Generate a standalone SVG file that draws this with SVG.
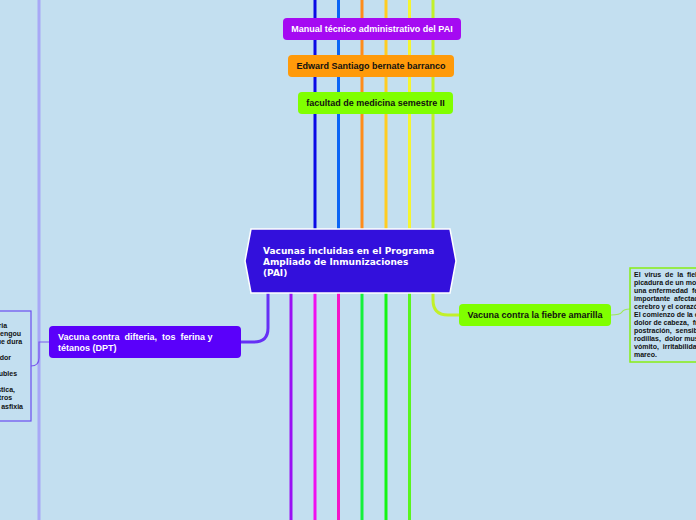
<svg xmlns="http://www.w3.org/2000/svg" width="696" height="520" viewBox="0 0 696 520">
<style>
.ln{fill:none;stroke-width:3}
.t9{font-family:"Liberation Sans",Arial,sans-serif;font-weight:bold;font-size:9px}
.t7{font-family:"Liberation Sans",Arial,sans-serif;font-weight:bold;font-size:7px;fill:#111}
</style>
<rect width="696" height="520" fill="#c3dff0"/>
<g id="connectors">
<line class="ln" x1="39" y1="0" x2="39" y2="520" stroke="#a8a8f6" stroke-width="2"/>
<line class="ln" x1="315" y1="0" x2="315" y2="230" stroke="#0a0ae6"/>
<line class="ln" x1="338.5" y1="0" x2="338.5" y2="230" stroke="#0a64f5"/>
<line class="ln" x1="362" y1="0" x2="362" y2="230" stroke="#ff8c1a"/>
<line class="ln" x1="386" y1="0" x2="386" y2="230" stroke="#ffcc22"/>
<line class="ln" x1="409.5" y1="0" x2="409.5" y2="230" stroke="#f5f530"/>
<path class="ln" d="M433,0 V230 M433,292 V300 Q433,315 448,315 H459" stroke="#c2f02a"/>
<line class="ln" x1="291" y1="292" x2="291" y2="520" stroke="#9a10f5"/>
<line class="ln" x1="315" y1="292" x2="315" y2="520" stroke="#f010f0"/>
<line class="ln" x1="338.5" y1="292" x2="338.5" y2="520" stroke="#f515c8"/>
<line class="ln" x1="362" y1="292" x2="362" y2="520" stroke="#14f03c"/>
<line class="ln" x1="386" y1="292" x2="386" y2="520" stroke="#14f514"/>
<line class="ln" x1="409.5" y1="292" x2="409.5" y2="520" stroke="#5af51e"/>
<path class="ln" d="M268,292 V328 Q268,342 254,342 H241" stroke="#6630f5" stroke-width="2"/>
<path fill="none" d="M49,342 H39 V358 Q39,366 31,366" stroke="#7a58ee" stroke-width="1.2"/>
<path fill="none" d="M611,315 Q620,315 622,312 Q624,309 630,309" stroke="#9ee85a" stroke-width="1.2"/>
</g>
<g id="n-manual">
<rect x="283" y="18" width="178" height="22" rx="4" fill="#a50af2"/>
<text class="t9" x="372" y="32" text-anchor="middle" fill="#fff">Manual técnico administrativo del PAI</text>
</g>
<g id="n-edward">
<rect x="288" y="55" width="166" height="22" rx="4" fill="#ff9a0a"/>
<text class="t9" x="371" y="69" text-anchor="middle" fill="#111">Edward Santiago bernate barranco</text>
</g>
<g id="n-facultad">
<rect x="298" y="92" width="155" height="22" rx="4" fill="#80ff00"/>
<text class="t9" x="375.5" y="106" text-anchor="middle" fill="#111">facultad de medicina semestre II</text>
</g>
<g id="n-central">
<polygon points="251,229 450,229 456,261 450,293 251,293 245,261" fill="#3310dc" stroke="#ffffff" stroke-width="1.5"/>
<text font-family="'DejaVu Sans',Verdana,sans-serif" font-weight="bold" font-size="9" fill="#fff">
<tspan x="263" y="254">Vacunas incluidas en el Programa</tspan>
<tspan x="263" y="265">Ampliado de Inmunizaciones</tspan>
<tspan x="263" y="276">(PAI)</tspan>
</text>
</g>
<g id="n-dpt">
<rect x="49" y="326" width="192" height="32" rx="4" fill="#5a00fa"/>
<text class="t9" fill="#fff" xml:space="preserve"><tspan x="58" y="340">Vacuna contra  difteria,  tos  ferina y</tspan><tspan x="58" y="351">tétanos (DPT)</tspan></text>
</g>
<g id="n-dpt-desc">
<rect x="-20" y="311" width="51" height="110" fill="#c3dff0" stroke="#6c4ef0" stroke-width="1.2"/>
<text class="t7" text-anchor="end">
<tspan x="9" y="328">de la difteria</tspan>
<tspan x="23" y="336">bacilo de Bordet-Gengou</tspan>
<tspan x="24" y="344">una tos que dura</tspan>
<tspan x="13" y="360">y estridor</tspan>
<tspan x="19" y="376">toxinas solubles</tspan>
<tspan x="17" y="392">característica,</tspan>
<tspan x="14" y="400">entre otros</tspan>
<tspan x="23" y="409">provocar la asfixia</tspan>
</text>
</g>
<g id="n-fiebre">
<rect x="459" y="304" width="152" height="22" rx="4" fill="#80ff00"/>
<text class="t9" x="535" y="318" text-anchor="middle" fill="#111">Vacuna contra la fiebre amarilla</text>
</g>
<g id="n-fiebre-desc">
<rect x="630" y="268" width="80" height="94" fill="#c3dff0" stroke="#88ee14" stroke-width="1.5"/>
<text class="t7" xml:space="preserve">
<tspan x="634" y="277">El  virus  de  la  fiebre  amarilla</tspan>
<tspan x="634" y="285">picadura de un mosquito</tspan>
<tspan x="634" y="293">una enfermedad  febril</tspan>
<tspan x="634" y="301">importante  afectación</tspan>
<tspan x="634" y="309">cerebro y el corazón.</tspan>
<tspan x="634" y="317">El comienzo de la enfermedad</tspan>
<tspan x="634" y="325">dolor de cabeza,  frío,</tspan>
<tspan x="634" y="333">postración,  sensibilidad</tspan>
<tspan x="634" y="341">rodillas,  dolor muscular,</tspan>
<tspan x="634" y="349">vómito,  irritabilidad,</tspan>
<tspan x="634" y="357">mareo.</tspan>
</text>
</g>
</svg>
